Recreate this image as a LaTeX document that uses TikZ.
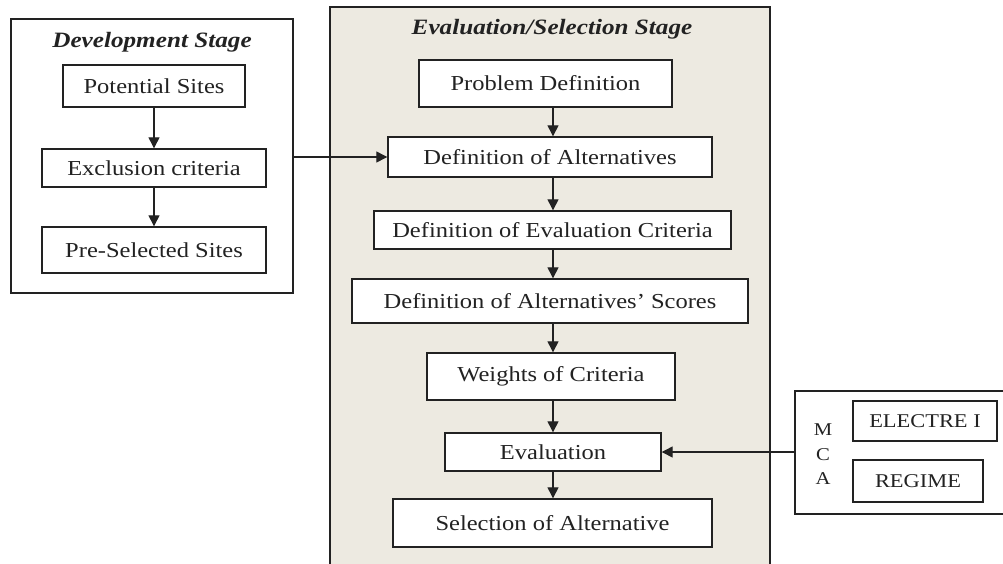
\documentclass[tikz,border=0pt]{standalone}
\usepackage{fontspec}
\setmainfont{Liberation Serif}[FakeStretch=1.15]
\usetikzlibrary{arrows.meta}
\definecolor{stagefill}{HTML}{EDEAE1}
\definecolor{ink}{HTML}{222222}
\tikzset{
  frame/.style={draw=ink, line width=1.4pt, inner sep=0pt},
  stepbox/.style={draw=ink, line width=1.4pt, fill=white, inner sep=0pt,
    font=\fontsize{21.3}{23}\selectfont, text=ink},
  smallbox/.style={stepbox, font=\fontsize{19.5}{21}\selectfont},
  title/.style={font=\fontsize{21.9}{23}\selectfont\bfseries\itshape, text=ink, inner sep=0pt},
  flow/.style={draw=ink, line width=1.3pt, -{Triangle[width=11pt,length=11pt]}},
  letter/.style={font=\fontsize{18}{20}\selectfont, text=ink, inner sep=0pt}
}
\begin{document}
\begin{tikzpicture}[x=1pt,y=-1pt]
\useasboundingbox[fill=white] (0,0) rectangle (1003,563);

% development stage
\node[frame, minimum width=282pt, minimum height=274pt] (dev) at (152,156) {};
\node[title] (devtitle) at (152,42) {Development Stage};
\node[stepbox, minimum width=182pt, minimum height=42pt] (ps) at (154,86) {Potential Sites};
\node[stepbox, minimum width=224pt, minimum height=38pt] (ex) at (154,168) {Exclusion criteria};
\node[stepbox, minimum width=224pt, minimum height=46pt] (pre) at (154,250) {Pre-Selected Sites};

% evaluation / selection stage
\node[frame, fill=stagefill, minimum width=440pt, minimum height=570pt] (evalstage) at (550,292) {};
\node[title] (evaltitle) at (552,29) {Evaluation/Selection Stage};
\coordinate (axis) at (553,0);
\node[stepbox, minimum width=253pt, minimum height=47pt] (pd) at (545.5,83.5) {Problem Definition};
\node[stepbox, minimum width=324pt, minimum height=40pt] (da) at (550,157) {Definition of Alternatives};
\node[stepbox, minimum width=357pt, minimum height=38pt] (dc) at (552.5,230) {Definition of Evaluation Criteria};
\node[stepbox, minimum width=396pt, minimum height=44pt] (ds) at (550,301) {Definition of Alternatives’ Scores};
\node[stepbox, minimum width=248pt, minimum height=47pt] (wc) at (551,376.5) {Weights of Criteria};
\node[stepbox, minimum width=216pt, minimum height=38pt] (ev) at (553,452) {Evaluation};
\node[stepbox, minimum width=319pt, minimum height=48pt] (sa) at (552.5,523) {Selection of Alternative};

% MCA methods
\node[frame, fill=white, minimum width=215pt, minimum height=123pt] (mca) at (902.5,452.5) {};
\node[smallbox, minimum width=144pt, minimum height=40pt] (el) at (925,421) {ELECTRE I};
\node[smallbox, minimum width=130pt, minimum height=42pt] (rg) at (918,481) {REGIME};
\node[letter] (lm) at (823,430) {M};
\node[letter] (lc) at (823,455) {C};
\node[letter] (la) at (823,479) {A};

% connectors
\draw[flow] (ps.south -| ex.north) -- (ex.north);
\draw[flow] (ex.south) -- (pre.north);
\draw[flow] (dev.east |- da.west) -- (da.west);
\draw[flow] (pd.south -| axis) -- (da.north -| axis);
\draw[flow] (da.south -| axis) -- (dc.north -| axis);
\draw[flow] (dc.south -| axis) -- (ds.north -| axis);
\draw[flow] (ds.south -| axis) -- (wc.north -| axis);
\draw[flow] (wc.south -| axis) -- (ev.north -| axis);
\draw[flow] (ev.south -| axis) -- (sa.north -| axis);
\draw[flow] (mca.west |- ev.east) -- (ev.east);
\end{tikzpicture}
\end{document}
